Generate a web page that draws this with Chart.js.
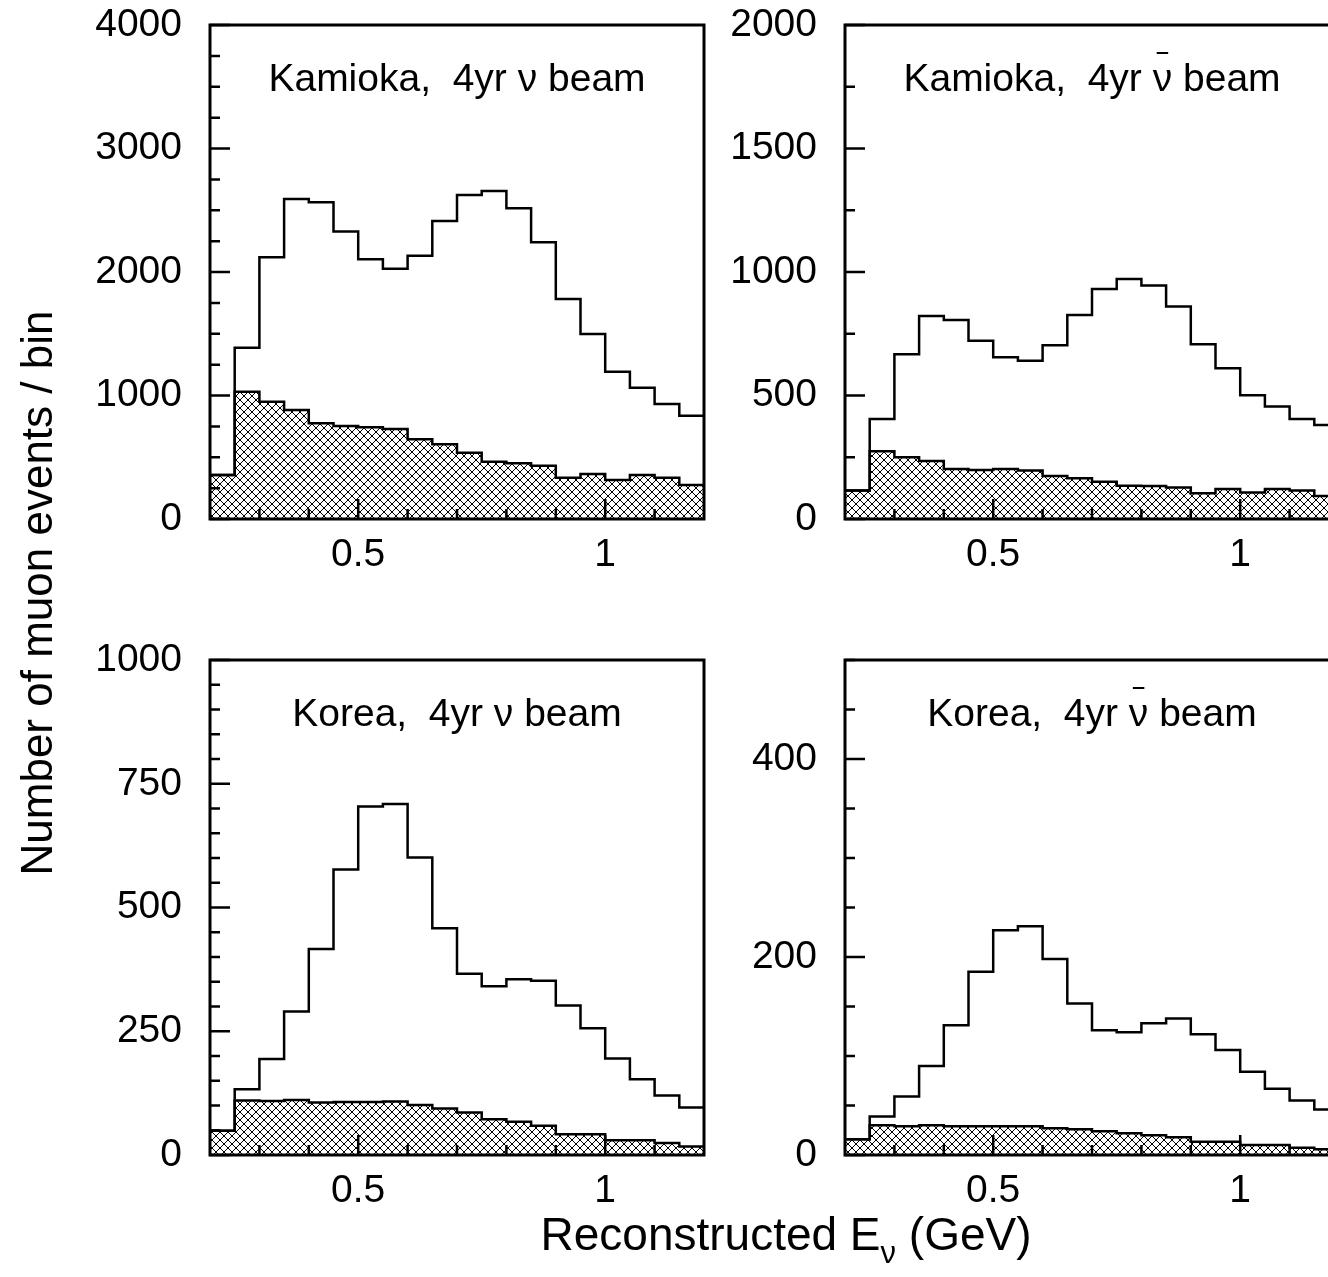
<!DOCTYPE html>
<html>
<head>
<meta charset="utf-8">
<script src="https://cdn.jsdelivr.net/npm/chart.js@4/dist/chart.umd.min.js"></script>
<style>
html,body{margin:0;padding:0;background:#fff;overflow:hidden;width:1328px;height:1277px;}
canvas{position:absolute;left:0;top:0;}
</style>
</head>
<body>
<canvas id="c0" width="1360" height="1277"></canvas>
<canvas id="c1" width="1360" height="1277"></canvas>
<canvas id="c2" width="1360" height="1277"></canvas>
<canvas id="c3" width="1360" height="1277"></canvas>
<script>
// ---------------- data ----------------
const binLow = [0.20,0.25,0.30,0.35,0.40,0.45,0.50,0.55,0.60,0.65,0.70,0.75,0.80,0.85,0.90,0.95,1.00,1.05,1.10,1.15];
const binWidth = 0.05;

const xTickValues = [0.5, 1];
const xTickLabels = ['0.5', '1'];
const xMinorTicks = [0.3,0.4,0.6,0.7,0.8,0.9,1.1];

// Kamioka, nu beam
const kamNuAll = [356,1387,2119,2591,2564,2327,2103,2027,2132,2413,2623,2656,2516,2240,1781,1498,1193,1063,931,837];
const kamNuBkg = [356,1031,950,883,775,753,742,729,645,605,537,464,451,432,335,364,316,356,335,275];
// Kamioka, anti-nu beam
const kamNubarAll = [115,405,667,822,806,722,655,641,703,826,931,972,945,860,707,610,501,455,405,381];
const kamNubarBkg = [115,274,250,235,202,198,202,196,174,165,151,135,134,128,104,121,107,121,115,93];
// Korea, nu beam
const korNuAll = [49,133,194,290,416,577,704,709,601,458,366,341,355,352,302,256,195,153,120,96];
const korNuBkg = [49,110,109,111,106,107,107,108,101,94,86,72,67,59,42,42,30,30,24,17];
// Korea, anti-nu beam
const korNubarAll = [16,39,59,90,131,185,227,231,198,153,126,124,133,138,122,106,84,67,55,46];
const korNubarBkg = [16,30,29,30,29,29,29,29,27,26,24,22,20,18,13.5,13.5,10,10,7.4,5.7];

// y ticks (labelled) and minor ticks
const yTicksKamNu = [0,1000,2000,3000,4000];
const yMinorKamNu = [250,500,750,1250,1500,1750,2250,2500,2750,3250,3500,3750];
const yTicksKamNubar = [0,500,1000,1500,2000];
const yMinorKamNubar = [250,750,1250,1750];
const yTicksKorNu = [0,250,500,750,1000];
const yMinorKorNu = [50,100,150,200,300,350,400,450,550,600,650,700,800,850,900,950];
const yTicksKorNubar = [0,200,400];
const yMinorKorNubar = [50,100,150,250,300,350,450,500];

const titles = ['Kamioka,  4yr \u03bd beam', 'Kamioka,  4yr \u03bd beam', 'Korea,  4yr \u03bd beam', 'Korea,  4yr \u03bd beam'];
const yAxisTitle = 'Number of muon events / bin';
const xAxisTitle = ['Reconstructed E', '\u03bd', ' (GeV)'];

// ---------------- drawing ----------------
const FONT = '"Liberation Sans", Arial, Helvetica, sans-serif';
const FS = 39;
const FTY = 44;
const FTX = 46;
const W = 1360, H = 1277, YW = 180, XH = 60;

function steps(vals){
  const pts = vals.map((v,i)=>({x:binLow[i], y:v}));
  pts.push({x: binLow[binLow.length-1] + binWidth, y: vals[vals.length-1]});
  return pts;
}

function makeHatch(){
  const pc = document.createElement('canvas');
  pc.width = 8; pc.height = 8;
  const g = pc.getContext('2d');
  g.strokeStyle = '#000'; g.lineWidth = 1;
  g.beginPath();
  g.moveTo(-1,-1); g.lineTo(9,9);
  g.moveTo(9,-1); g.lineTo(-1,9);
  g.stroke();
  return g.createPattern(pc, 'repeat');
}
const hatch = makeHatch();

const deco = {
  id: 'deco',
  afterDraw(chart, args, o){
    const ctx = chart.ctx, a = chart.chartArea, xs = chart.scales.x, ys = chart.scales.y;
    ctx.save();
    ctx.strokeStyle = '#000';
    ctx.lineCap = 'butt';
    // ticks
    ctx.lineWidth = 2.5;
    ctx.beginPath();
    o.yMajor.forEach(v=>{ const y = ys.getPixelForValue(v); ctx.moveTo(a.left, y); ctx.lineTo(a.left + 20, y); });
    o.yMinor.forEach(v=>{ const y = ys.getPixelForValue(v); ctx.moveTo(a.left, y); ctx.lineTo(a.left + 10, y); });
    xTickValues.forEach(v=>{ const x = xs.getPixelForValue(v); ctx.moveTo(x, a.bottom); ctx.lineTo(x, a.bottom - 20); });
    xMinorTicks.forEach(v=>{ const x = xs.getPixelForValue(v); ctx.moveTo(x, a.bottom); ctx.lineTo(x, a.bottom - 10); });
    ctx.stroke();
    // frame
    ctx.lineWidth = 3;
    ctx.strokeRect(a.left, a.top, a.right - a.left, a.bottom - a.top);
    // panel title
    ctx.fillStyle = '#000';
    ctx.font = FS + 'px ' + FONT;
    ctx.textBaseline = 'alphabetic';
    ctx.textAlign = 'left';
    const t = o.title;
    const tw = ctx.measureText(t).width;
    const cx = (a.left + a.right) / 2;
    const x0 = cx - tw / 2, by = a.top + 66;
    ctx.fillText(t, x0, by);
    if (o.bar) {
      const i = t.indexOf('\u03bd');
      const pre = ctx.measureText(t.slice(0, i)).width;
      const nw = ctx.measureText('\u03bd').width;
      ctx.lineWidth = 2;
      ctx.beginPath();
      ctx.moveTo(x0 + pre + 4, by - 38);
      ctx.lineTo(x0 + pre + nw - 4, by - 38);
      ctx.stroke();
    }
    // axis titles
    if (o.axisTitles) {
      ctx.save();
      ctx.translate(52, 593);
      ctx.rotate(-Math.PI/2);
      ctx.textAlign = 'center';
      ctx.textBaseline = 'alphabetic';
      ctx.font = FTY + 'px ' + FONT;
      ctx.fillText(yAxisTitle, 0, 0);
      ctx.restore();
      const big = FTX + 'px ' + FONT, small = '31px ' + FONT;
      ctx.font = big; const w1 = ctx.measureText(xAxisTitle[0]).width, w3 = ctx.measureText(xAxisTitle[2]).width;
      ctx.font = small; const w2 = ctx.measureText(xAxisTitle[1]).width;
      let x = 786 - (w1 + w2 + w3) / 2;
      const bl = 1250;
      ctx.font = big; ctx.fillText(xAxisTitle[0], x, bl); x += w1;
      ctx.font = small; ctx.fillText(xAxisTitle[1], x, bl + 13); x += w2;
      ctx.font = big; ctx.fillText(xAxisTitle[2], x, bl);
    }
    ctx.restore();
  }
};

function makeChart(id, frame, all, bkg, yMax, yTicks, yMinor, title, bar, axisTitles){
  return new Chart(document.getElementById(id), {
    type: 'line',
    data: { datasets: [
      { data: steps(all), stepped: 'before', borderColor: '#000', borderWidth: 2.5, pointRadius: 0, fill: false },
      { data: steps(bkg), stepped: 'before', borderColor: '#000', borderWidth: 2.5, pointRadius: 0, fill: 'origin', backgroundColor: hatch }
    ]},
    options: {
      responsive: false, animation: false, events: [],
      layout: { padding: { left: frame.l - YW, top: frame.t, right: W - frame.r, bottom: H - frame.b - XH } },
      plugins: { legend: { display: false }, tooltip: { enabled: false },
        deco: { yMajor: yTicks, yMinor: yMinor, title: title, bar: bar, axisTitles: axisTitles } },
      scales: {
        x: { type: 'linear', min: 0.2, max: 1.2,
          grid: { display: false }, border: { display: false },
          afterFit: s => { s.height = XH; s.paddingLeft = 0; s.paddingRight = 0; },
          afterBuildTicks: s => { s.ticks = xTickValues.map(v => ({ value: v })); },
          ticks: { autoSkip: false, maxRotation: 0, minRotation: 0, padding: 5, color: '#000',
            font: { family: FONT, size: FS }, callback: (v, i) => xTickLabels[i] } },
        y: { type: 'linear', min: 0, max: yMax,
          grid: { display: false }, border: { display: false },
          afterFit: s => { s.width = YW; s.paddingTop = 0; s.paddingBottom = 0; },
          afterBuildTicks: s => { s.ticks = yTicks.map(v => ({ value: v })); },
          ticks: { autoSkip: false, padding: 20, color: '#000',
            font: { family: FONT, size: FS }, callback: (v, i) => String(yTicks[i]) } }
      }
    },
    plugins: [deco]
  });
}

makeChart('c0', {l:210, t:25, r:704, b:519}, kamNuAll, kamNuBkg, 4000, yTicksKamNu, yMinorKamNu, titles[0], false, true);
makeChart('c1', {l:845, t:25, r:1339, b:519}, kamNubarAll, kamNubarBkg, 2000, yTicksKamNubar, yMinorKamNubar, titles[1], true, false);
makeChart('c2', {l:210, t:660, r:704, b:1155}, korNuAll, korNuBkg, 1000, yTicksKorNu, yMinorKorNu, titles[2], false, false);
makeChart('c3', {l:845, t:660, r:1339, b:1155}, korNubarAll, korNubarBkg, 500, yTicksKorNubar, yMinorKorNubar, titles[3], true, false);
</script>
</body>
</html>
